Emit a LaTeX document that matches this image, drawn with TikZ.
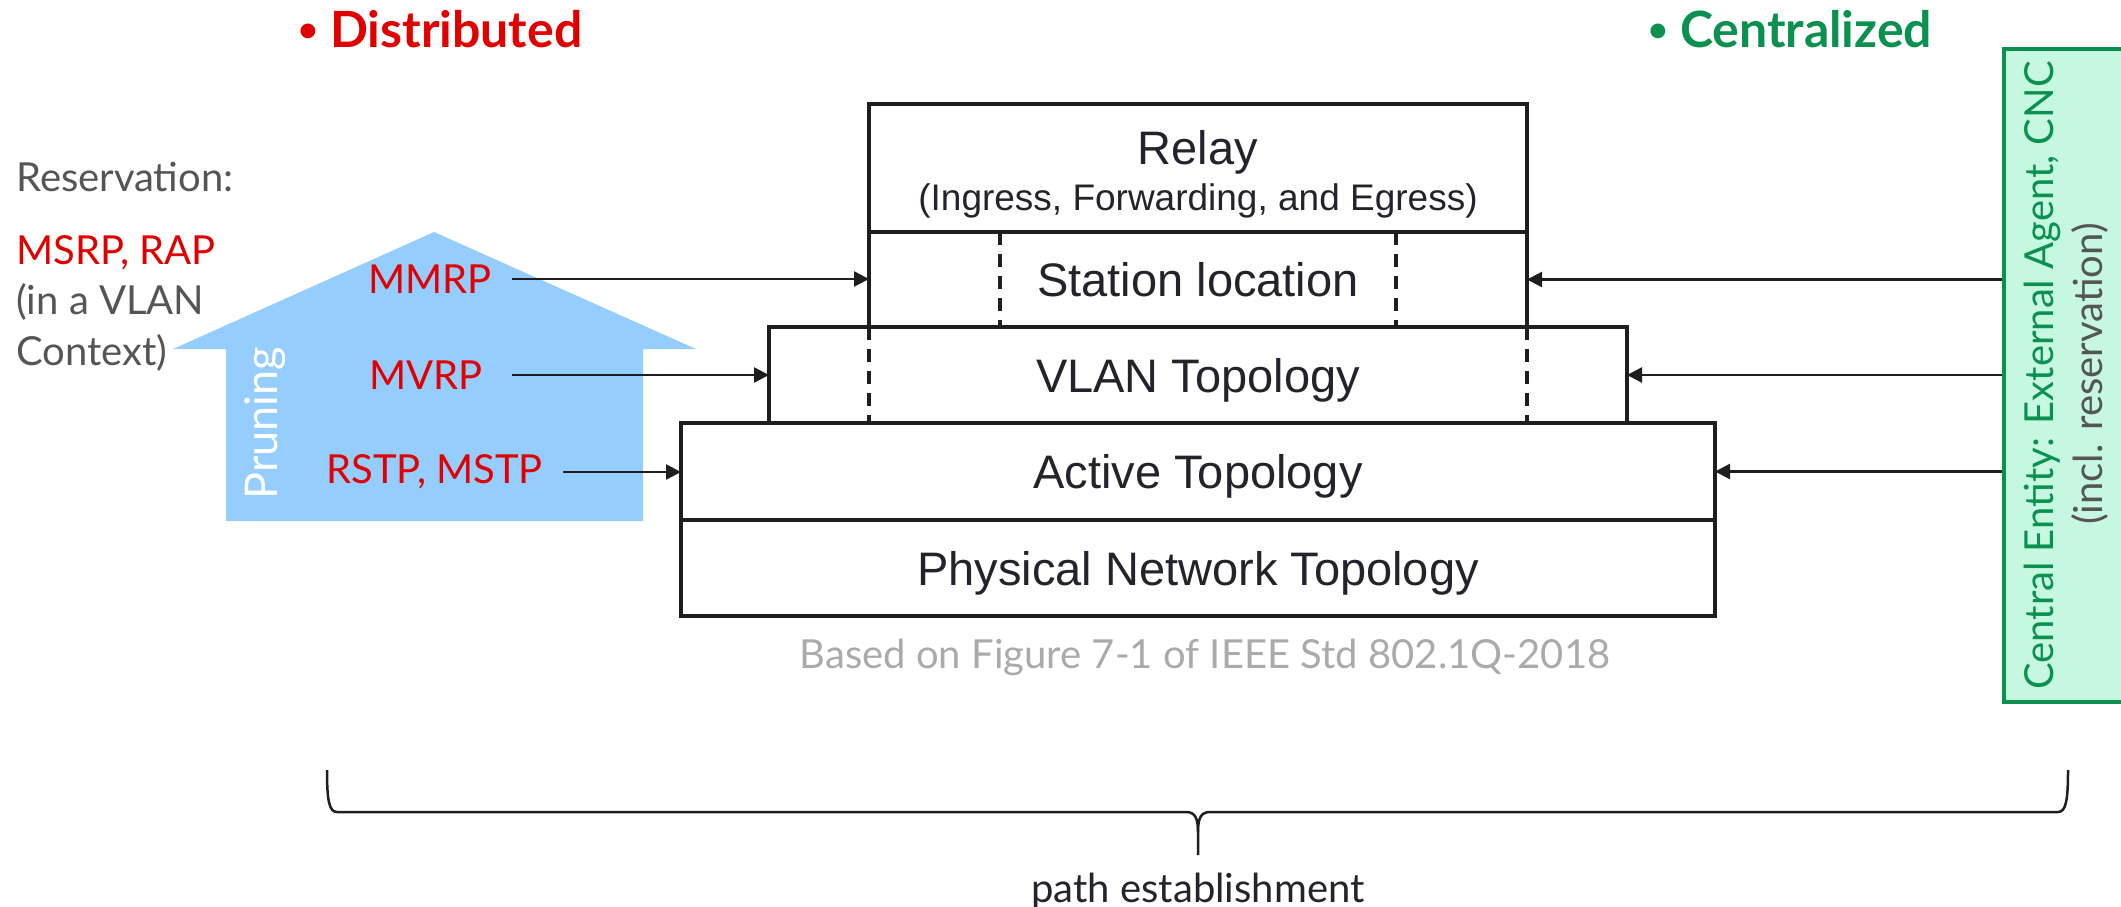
\documentclass[tikz,border=0pt]{standalone}
\usepackage{fontspec}
\setmainfont{Liberation Sans}
\newfontfamily\hildafont{Lato}
\usetikzlibrary{arrows.meta}

\definecolor{ericred}{RGB}{225,0,0}
\definecolor{cncgreen}{RGB}{10,145,80}
\definecolor{cncfill}{RGB}{198,247,224}
\definecolor{pruneblue}{RGB}{150,205,255}
\definecolor{notegray}{RGB}{85,85,85}
\definecolor{srcgray}{RGB}{170,170,170}
\definecolor{boxink}{RGB}{35,35,45}
\definecolor{linegray}{RGB}{30,30,30}

\begin{document}
\begin{tikzpicture}[x=1pt, y=-1pt,
  layer/.style={draw=linegray, line width=4pt, inner sep=0pt, outer sep=0pt,
    text=boxink, text height=34pt, text depth=0pt, font=\fontsize{47}{50}\selectfont},
  divider/.style={draw=linegray, line width=3.5pt, dash pattern=on 13pt off 9pt},
  feed/.style={draw=linegray, line width=2.4pt, -{Triangle[length=15pt,width=15pt]}},
  proto/.style={text=ericred, inner sep=0pt, font=\hildafont\fontsize{40}{48}\selectfont},
  note/.style={text=notegray, inner sep=0pt, font=\hildafont\fontsize{40}{48}\selectfont},
  headline/.style={inner sep=0pt, font=\hildafont\bfseries\fontsize{50}{60}\selectfont}]

  \useasboundingbox (0,0) rectangle (2121,907);

  % headlines
  \node[headline, text=ericred, anchor=base west] (distr) at (298,48) {\raisebox{6pt}{\fontsize{34}{40}\selectfont\textbullet}\ Distributed};
  \node[headline, text=cncgreen, anchor=base west] (central) at (1648,48) {\raisebox{6pt}{\fontsize{34}{40}\selectfont\textbullet}\ Centralized};

  % reservation note
  \node[note, anchor=base west] (resv) at (16,191) {Reservation:};
  \node[proto, anchor=base west] (msrp) at (16,264) {MSRP, RAP};
  \node[note, anchor=base west] (ctxa) at (16,314) {(in a VLAN};
  \node[note, anchor=base west] (ctxb) at (16,365) {Context)};

  % pruning arrow
  \fill[pruneblue] (434,232) -- (696,349) -- (643,349) -- (643,521)
    -- (226,521) -- (226,349) -- (173,349) -- cycle;
  \node[note, text=white, rotate=90, font=\hildafont\fontsize{45}{50}\selectfont] (prune) at (265,423) {Pruning};

  % layers of the bridge
  \node[layer, minimum width=658pt, minimum height=128pt] (relay) at (1198,168) {};
  \node[layer, minimum width=658pt, minimum height=95pt] (station) at (1198,279.5) {Station location};
  \node[layer, minimum width=858pt, minimum height=96pt] (vlan) at (1198,375) {VLAN Topology};
  \node[layer, minimum width=1034pt, minimum height=97pt] (active) at (1198,471.5) {Active Topology};
  \node[layer, minimum width=1034pt, minimum height=96pt] (phys) at (1198,568) {Physical Network Topology};
  \node[anchor=base, text=boxink, inner sep=0pt, font=\fontsize{47}{50}\selectfont] (relaytitle) at (1198,164) {Relay};
  \node[anchor=base, text=boxink, inner sep=0pt, font=\fontsize{37}{40}\selectfont] (relaysub) at (1198,210) {(Ingress, Forwarding, and Egress)};

  \draw[divider] ([xshift=-198pt]station.north) -- ([xshift=-198pt]station.south);
  \draw[divider] ([xshift=198pt]station.north) -- ([xshift=198pt]station.south);
  \draw[divider] (station.south west |- vlan.north) -- (station.south west |- vlan.south);
  \draw[divider] (station.south east |- vlan.north) -- (station.south east |- vlan.south);

  \node[note, text=srcgray, anchor=base, font=\hildafont\fontsize{40}{44}\selectfont] (source) at (1205,668) {Based on Figure 7-1 of IEEE Std 802.1Q-2018};

  % distributed protocols
  \node[proto, anchor=east, inner xsep=20pt] (mmrp) at (512,279) {MMRP};
  \node[proto, anchor=east, inner xsep=29pt] (mvrp) at (512,375) {MVRP};
  \node[proto, anchor=east, inner xsep=20pt] (stp) at (563,472) {RSTP, MSTP};
  \draw[feed] (mmrp.east) -- (mmrp.east -| station.west);
  \draw[feed] (mvrp.east) -- (mvrp.east -| vlan.west);
  \draw[feed] (stp.east) -- (stp.east -| active.west);

  % central entity
  \node[draw=cncgreen, fill=cncfill, line width=3.5pt, minimum width=125pt, minimum height=653pt] (cnc) at (2066.5,375.5) {};
  \node[note, text=cncgreen, rotate=90, anchor=base] (cnctext) at (2053,375.5) {Central Entity: External Agent, CNC};
  \node[note, rotate=90, anchor=base] (cncsub) at (2102,374) {(incl. reservation)};
  \draw[feed] (station.east -| cnc.west) -- (station.east);
  \draw[feed] (vlan.east -| cnc.west) -- (vlan.east);
  \draw[feed] (active.east -| cnc.west) -- (active.east);

  % brace
  \draw[linegray, line width=2.5pt] (327,770) .. controls (327,800) and (329,812) .. (337,812)
    -- (1186,812) .. controls (1195,812) and (1198,818) .. (1198,832) -- (1198,855);
  \draw[linegray, line width=2.5pt] (2068,770) .. controls (2068,800) and (2066,812) .. (2058,812)
    -- (1210,812) .. controls (1201,812) and (1198,818) .. (1198,832);
  \node[note, text=boxink, anchor=base] (pathlbl) at (1198,902) {path establishment};
\end{tikzpicture}
\end{document}
